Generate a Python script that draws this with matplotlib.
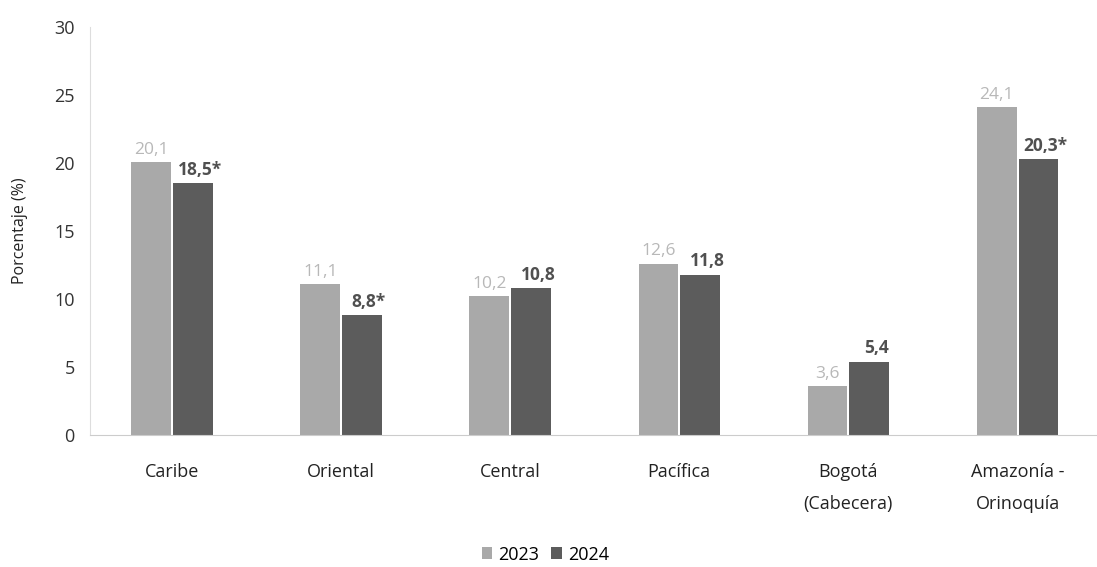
import matplotlib
matplotlib.use("Agg")
import matplotlib.pyplot as plt
import numpy as np

categories = ["Caribe", "Oriental", "Central", "Pacífica", "Bogotá\n(Cabecera)", "Amazonía -\nOrinoquía"]
values_2023 = [20.1, 11.1, 10.2, 12.6, 3.6, 24.1]
values_2024 = [18.5, 8.8, 10.8, 11.8, 5.4, 20.3]
labels_2023 = ["20,1", "11,1", "10,2", "12,6", "3,6", "24,1"]
labels_2024 = ["18,5*", "8,8*", "10,8", "11,8", "5,4", "20,3*"]
series = ["2023", "2024"]

plt.rcParams['font.family'] = ['Open Sans', 'DejaVu Sans']

fig = plt.figure(figsize=(10.97, 5.67), dpi=100)
ax = fig.add_axes([0.082, 0.233, 0.918, 0.719])

x = np.arange(len(categories))
w = 0.235
gap = 0.006
c23 = "#a9a9a9"
c24 = "#5c5c5c"
b1 = ax.bar(x - w / 2 - gap, values_2023, w, color=c23, label=series[0])
b2 = ax.bar(x + w / 2 + gap, values_2024, w, color=c24, label=series[1])

for rect, lab in zip(b1, labels_2023):
    ax.annotate(lab, (rect.get_x() + rect.get_width() / 2, rect.get_height()),
                xytext=(0, 3), textcoords="offset points", ha="center", va="bottom",
                fontsize=12.5, color="#b8b8b8")
for rect, lab in zip(b2, labels_2024):
    ax.annotate(lab, (rect.get_x() + rect.get_width() / 2 + 0.04, rect.get_height()),
                xytext=(0, 3), textcoords="offset points", ha="center", va="bottom",
                fontsize=12.5, color="#505050", fontweight="bold")

ax.set_ylim(0, 30)
ax.set_xlim(-0.485, 5.47)
ax.set_yticks([0, 5, 10, 15, 20, 25, 30])
ax.set_xticks(x)
ax.set_xticklabels(categories, fontsize=13, color="#222222", linespacing=2.0)
ax.tick_params(axis="y", length=0, labelsize=13, labelcolor="#333333", pad=11)
ax.tick_params(axis="x", length=0, pad=20)
ax.set_ylabel("Porcentaje (%)", fontsize=11.5, color="#222222", labelpad=19)

for s in ["top", "right"]:
    ax.spines[s].set_visible(False)
ax.spines["left"].set_color("#dddddd")
ax.spines["bottom"].set_color("#cccccc")

fig.legend(handles=[b1, b2], labels=series, loc="center", bbox_to_anchor=(0.497, 0.022),
           ncol=2, frameon=False, fontsize=13, handlelength=0.6, handleheight=0.6,
           handletextpad=0.3, columnspacing=0.7)

fig.savefig("out.png", dpi=100)
